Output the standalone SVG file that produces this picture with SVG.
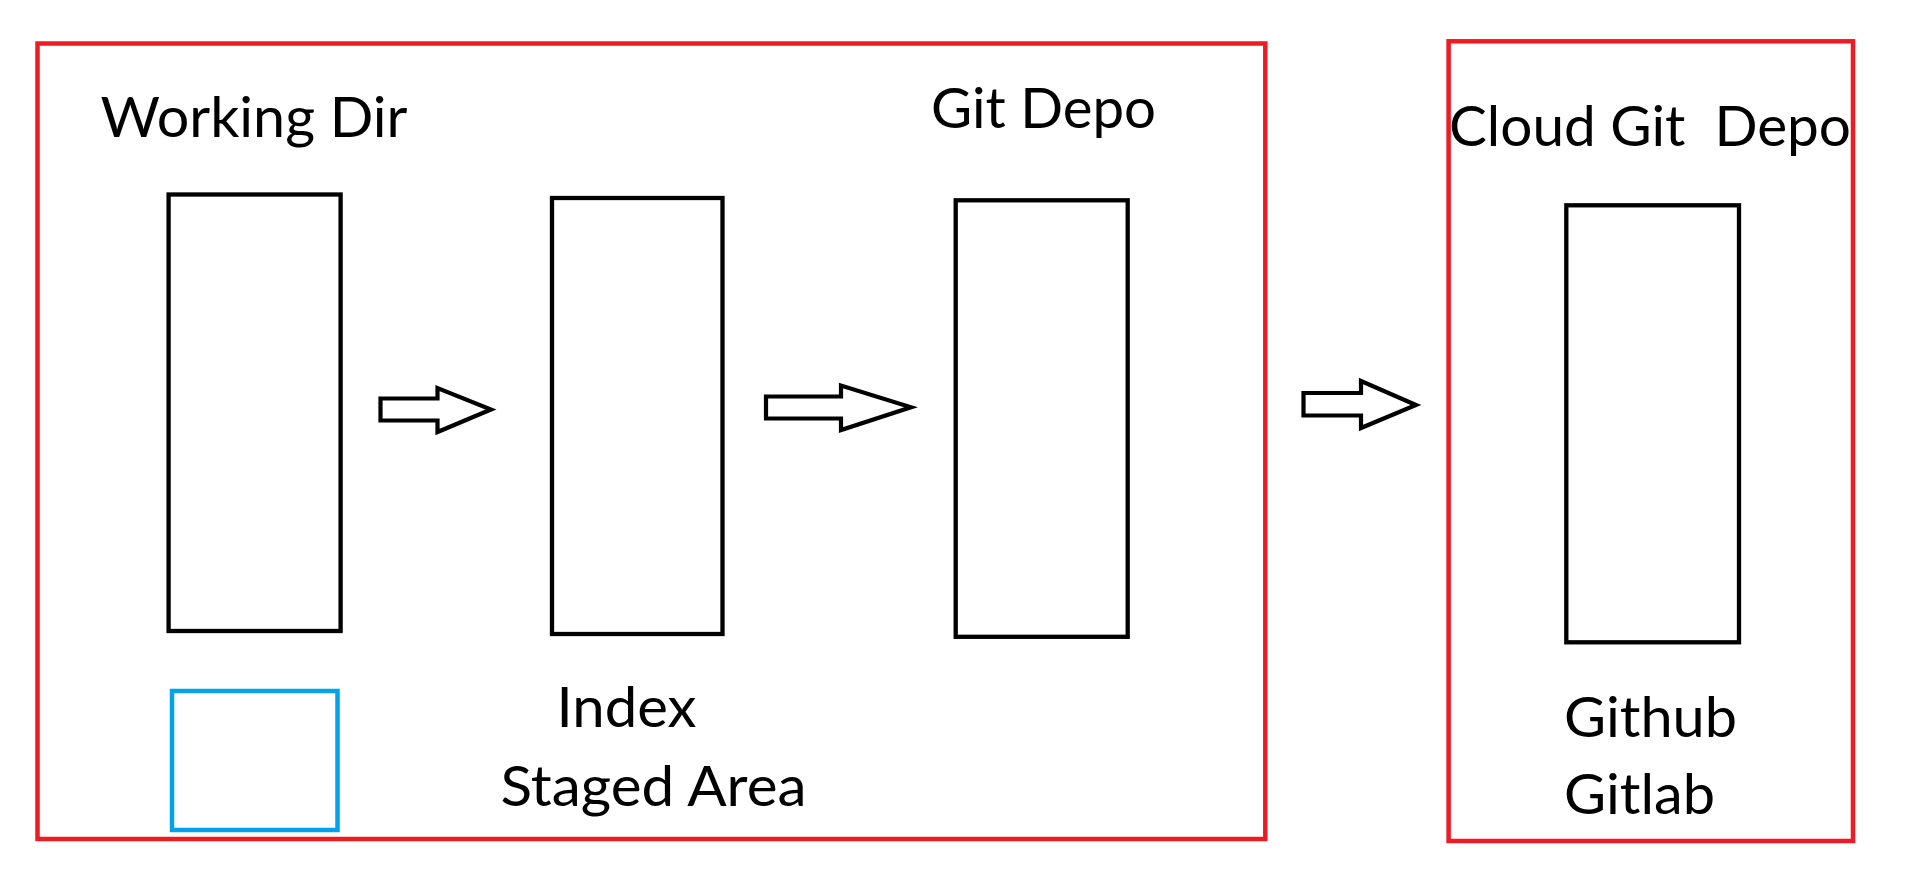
<svg xmlns="http://www.w3.org/2000/svg" width="1914" height="874" viewBox="0 0 1914 874">
<style>
.frame{fill:none;stroke:#ED1C24;stroke-width:4.5}
.box{fill:none;stroke:#000;stroke-width:4.3}
.blue{fill:none;stroke:#00A2E8;stroke-width:4.5}
.arrow{fill:none;stroke:#000;stroke-width:4.2;stroke-linejoin:miter}
.lbl{font-family:Lato,"Open Sans","Liberation Sans",sans-serif;font-size:56px;fill:#000;white-space:pre}
</style>
<rect width="1914" height="874" fill="#fff"/>
<g id="local-frame"><rect class="frame" x="37.5" y="43.5" width="1227.8" height="795.5"/></g>
<g id="cloud-frame"><rect class="frame" x="1448.6" y="41.3" width="404.4" height="799.7"/></g>
<g id="working-dir">
<rect class="box" x="168.6" y="194.5" width="172" height="436.5"/>
<text class="lbl" x="100.5" y="137.3" textLength="307" lengthAdjust="spacingAndGlyphs">Working Dir</text>
</g>
<g id="legend-box"><rect class="blue" x="172" y="691" width="165.5" height="139"/></g>
<g id="index">
<rect class="box" x="552" y="198" width="170.5" height="436"/>
<text class="lbl" x="556.5" y="727.3" textLength="140" lengthAdjust="spacingAndGlyphs">Index</text>
<text class="lbl" x="500.5" y="806" textLength="306" lengthAdjust="spacingAndGlyphs">Staged Area</text>
</g>
<g id="git-depo">
<rect class="box" x="955.7" y="200.3" width="172" height="436.5"/>
<text class="lbl" x="931" y="128.3" textLength="225" lengthAdjust="spacingAndGlyphs">Git Depo</text>
</g>
<g id="cloud-git-depo">
<rect class="box" x="1566.3" y="205.3" width="172.7" height="437"/>
<text class="lbl" x="1449" y="145.7" textLength="402" lengthAdjust="spacingAndGlyphs" xml:space="preserve">Cloud Git  Depo</text>
<text class="lbl" x="1564" y="736.7" textLength="173" lengthAdjust="spacingAndGlyphs">Github</text>
<text class="lbl" x="1564" y="814" textLength="151" lengthAdjust="spacingAndGlyphs">Gitlab</text>
</g>
<g id="connectors">
<path class="arrow" d="M380.5,398.5 L437.5,398.5 L437.5,388 L491,409.5 L437.5,432 L437.5,420.5 L380.5,420.5 Z"/>
<path class="arrow" d="M766,396.5 L841,396.5 L841,385.5 L911,407.3 L841,430 L841,418.5 L766,418.5 Z"/>
<path class="arrow" d="M1303.5,393 L1361,393 L1361,381 L1416,405 L1361,428 L1361,415.5 L1303.5,415.5 Z"/>
</g>
</svg>
